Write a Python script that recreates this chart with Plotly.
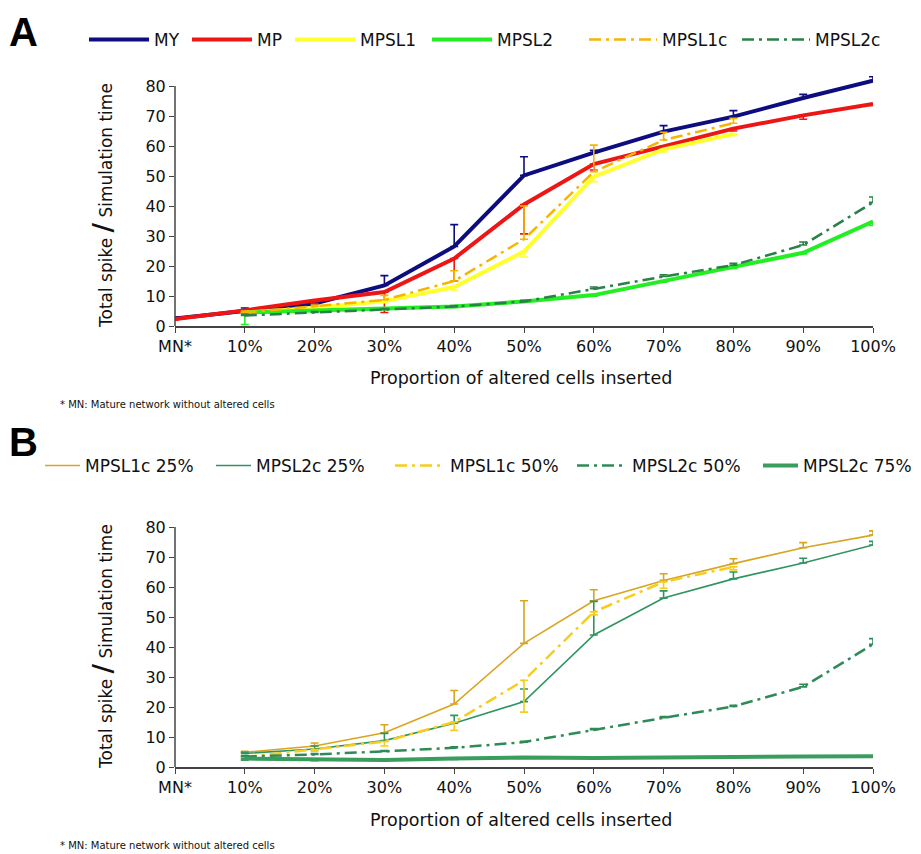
import plotly.graph_objects as go

# ---------------- data ----------------
categories = ["MN*", "10%", "20%", "30%", "40%", "50%", "60%", "70%", "80%", "90%", "100%"]

# Panel A
my_vals = [2.5, 5.0, 7.5, 13.5, 26.5, 50.2, 57.8, 64.8, 69.8, 76.0, 81.8]
my_err_up = [0.5, 1.0, 1.0, 3.3, 7.3, 6.2, 0.8, 2.0, 2.0, 1.2, 1.3]
mp_vals = [2.3, 5.2, 8.5, 11.3, 22.5, 40.5, 54.0, 60.0, 65.8, 70.2, 74.0]
mp_err_down = [0.3, 0.5, 1.0, 6.8, 7.5, 9.8, 2.0, 1.0, 0.8, 1.3, 0.5]
mpsl1_vals = [None, 4.5, 6.0, 8.3, 13.0, 24.8, 49.8, 58.9, 64.0, None, None]
mpsl1_err_down = [0, 0.5, 0.5, 0.5, 1.0, 1.8, 1.7, 0.9, 0.5, 0, 0]
mpsl2_vals = [None, 4.5, 5.0, 5.8, 6.5, 8.2, 10.3, 15.0, 19.6, 24.4, 34.8]
mpsl2_err_down = [0, 4.0, 0.3, 0.3, 0.3, 0.3, 0.4, 0.4, 0.4, 0.4, 1.3]
mpsl1c_vals = [None, 4.5, 6.5, 8.7, 15.0, 28.9, 51.4, 62.0, 67.6, None, None]
mpsl1c_err_up = [0, 0.5, 0.5, 1.5, 3.4, 11.1, 8.9, 2.6, 1.6, 0, 0]
mpsl2c_vals = [None, 3.5, 4.5, 5.5, 6.5, 8.2, 12.4, 16.5, 20.3, 27.0, 41.2]
mpsl2c_err_up = [0, 0.5, 0.3, 0.3, 0.3, 0.4, 0.6, 0.6, 0.6, 1.0, 1.8]

# Panel B
b_l1c25_vals = [None, 4.9, 7.0, 11.4, 21.0, 41.2, 55.4, 62.2, 67.8, 73.1, 77.3]
b_l1c25_err_up = [0, 0.3, 1.0, 2.7, 4.5, 14.2, 3.7, 2.2, 1.6, 1.7, 1.4]
b_l2c25_vals = [None, 4.5, 6.0, 8.8, 14.6, 21.8, 44.0, 56.3, 62.7, 68.0, 74.0]
b_l2c25_err_up = [0, 0.4, 1.0, 2.4, 2.6, 4.2, 11.2, 2.4, 2.3, 1.6, 1.2]
b_l1c50_vals = [None, 3.3, 5.8, 8.5, 15.0, 28.9, 51.7, 61.7, 66.7, None, None]
b_l1c50_err_down = [0, 0.3, 0.5, 1.5, 2.8, 10.6, 1.0, 2.1, 1.0, 0, 0]
b_l2c50_vals = [None, 3.5, 4.2, 5.2, 6.4, 8.3, 12.4, 16.4, 20.2, 26.7, 40.9]
b_l2c50_err_up = [0, 0.3, 0.3, 0.3, 0.3, 0.3, 0.4, 0.4, 0.4, 0.9, 1.9]
b_l2c75_vals = [None, 2.8, 2.7, 2.3, 2.8, 3.2, 3.0, 3.3, 3.3, 3.5, 3.6]
b_l2c75_err_down = [0, 0.5, 0.6, 0.3, 0.3, 0.2, 0.2, 0.2, 0.2, 0.2, 0.2]

FONT = "DejaVu Sans"
DASHDOT = "12px,5px,3px,5px"

fig = go.Figure()

def add(name, vals, color, width, dash, err, up, xa, ya, leg):
    ed = dict(type="data", symmetric=False, color=color, thickness=1.6, width=4, visible=True)
    if up:
        ed["array"] = err
        ed["arrayminus"] = [0] * len(err)
    else:
        ed["array"] = [0] * len(err)
        ed["arrayminus"] = err
    fig.add_trace(go.Scatter(
        x=categories, y=vals, name=name, mode="lines",
        line=dict(color=color, width=width, dash=dash),
        error_y=ed, xaxis=xa, yaxis=ya, legend=leg, connectgaps=False,
    ))

a_series = [
    ("MY", my_vals, "#0d0d80", 4, "solid", my_err_up, True),
    ("MP", mp_vals, "#ee1515", 4, "solid", mp_err_down, False),
    ("MPSL1", mpsl1_vals, "#ffff30", 4, "solid", mpsl1_err_down, False),
    ("MPSL2", mpsl2_vals, "#22ee22", 4, "solid", mpsl2_err_down, False),
    ("MPSL1c", mpsl1c_vals, "#f7b500", 2.5, DASHDOT, mpsl1c_err_up, True),
    ("MPSL2c", mpsl2c_vals, "#2a8048", 2.5, DASHDOT, mpsl2c_err_up, True),
]
b_series = [
    ("MPSL1c 25%", b_l1c25_vals, "#d9a521", 1.6, "solid", b_l1c25_err_up, True),
    ("MPSL2c 25%", b_l2c25_vals, "#2e9560", 1.6, "solid", b_l2c25_err_up, True),
    ("MPSL1c 50%", b_l1c50_vals, "#f8cc1c", 2.5, DASHDOT, b_l1c50_err_down, False),
    ("MPSL2c 50%", b_l2c50_vals, "#2e8b57", 2.5, DASHDOT, b_l2c50_err_up, True),
    ("MPSL2c 75%", b_l2c75_vals, "#3a9d5d", 4, "solid", b_l2c75_err_down, False),
]

W, H = 921, 854
S = 8  # page body margin: figure pixels = screen pixels - S


def px(v):
    return (v - S) / W


def py(v):
    return 1 - (v - S) / H


legend_text_a = [154, 257, 360, 497, 662, 815]
legend_itemw_a = [60, 60, 60, 60, 68, 68]
legend_text_b = [85, 256, 450, 632, 803]
legend_itemw_b = [35, 35, 50, 50, 35]

layout_legends = {}
k = 1
for (s, tx, iw) in zip(a_series, legend_text_a, legend_itemw_a):
    key = "legend" if k == 1 else f"legend{k}"
    add(*s, "x", "y", key)
    layout_legends[key] = dict(x=px(tx - iw - 10), xanchor="left", y=py(40), yanchor="middle",
                               bgcolor="rgba(0,0,0,0)", font=dict(family=FONT, size=17, color="#111"),
                               orientation="h", itemwidth=iw)
    k += 1
for (s, tx, iw) in zip(b_series, legend_text_b, legend_itemw_b):
    key = f"legend{k}"
    add(*s, "x2", "y2", key)
    layout_legends[key] = dict(x=px(tx - iw - 10), xanchor="left", y=py(466), yanchor="middle",
                               bgcolor="rgba(0,0,0,0)", font=dict(family=FONT, size=17, color="#111"),
                               orientation="h", itemwidth=iw)
    k += 1

domX = [px(175), px(873)]
domA = [py(326), py(74)]
domB = [py(767), py(515)]

xax = dict(type="category", categoryorder="array", categoryarray=categories,
           range=[0, 10], domain=domX, showline=True, linecolor="#444", linewidth=1.5,
           ticks="outside", ticklen=5, tickcolor="#444", showgrid=False, zeroline=False,
           tickfont=dict(family=FONT, size=16, color="#111"), automargin=False)
yax = dict(range=[0, 84], tickvals=[0, 10, 20, 30, 40, 50, 60, 70, 80], showline=False,
           ticks="outside", ticklen=5, tickcolor="#444", showgrid=False, zeroline=False,
           tickfont=dict(family=FONT, size=16, color="#111"), automargin=False)

shapes = []
for xr, yref in [("x domain", "y"), ("x2 domain", "y2")]:
    shapes.append(dict(type="line", xref=xr, x0=0, x1=0,
                       yref=yref, y0=0, y1=80, line=dict(color="#444", width=1.5)))

ytitle = "Total spike <span style='font-size:26px'><b>/</b></span> Simulation time"
ann = []
for (ycen, xt_y, foot_y) in [((86 + 326) / 2, 378, 405), ((527 + 767) / 2, 820, 845)]:
    ann.append(dict(text=ytitle, x=px(103), y=py(ycen), xref="paper", yref="paper",
                    textangle=-90, showarrow=False, font=dict(family=FONT, size=17, color="#111"),
                    xanchor="center", yanchor="middle"))
    ann.append(dict(text="Proportion of altered cells inserted", x=px(521), y=py(xt_y),
                    xref="paper", yref="paper", showarrow=False,
                    font=dict(family=FONT, size=17.5, color="#111"), xanchor="center", yanchor="middle"))
    ann.append(dict(text="* MN: Mature network without altered cells", x=px(58), y=py(foot_y),
                    xref="paper", yref="paper", showarrow=False,
                    font=dict(family=FONT, size=10, color="#111"), xanchor="left", yanchor="middle"))
# panel letters
ann.append(dict(text="<b>A</b>", x=px(23), y=1, xref="paper", yref="paper", showarrow=False,
                font=dict(family="Liberation Sans", size=40, color="#000"),
                xanchor="center", yanchor="top"))
ann.append(dict(text="<b>B</b>", x=px(23), y=py(442), xref="paper", yref="paper", showarrow=False,
                font=dict(family="Liberation Sans", size=40, color="#000"),
                xanchor="center", yanchor="middle"))

fig.update_layout(
    width=W, height=H, margin=dict(l=0, r=0, t=0, b=0, pad=0, autoexpand=False),
    paper_bgcolor="white", plot_bgcolor="white",
    xaxis=dict(xax, anchor="y"), yaxis=dict(yax, domain=domA, anchor="x"),
    xaxis2=dict(xax, anchor="y2"), yaxis2=dict(yax, domain=domB, anchor="x2"),
    shapes=shapes, annotations=ann, showlegend=True,
    **layout_legends,
)

fig.write_html("out.html")
